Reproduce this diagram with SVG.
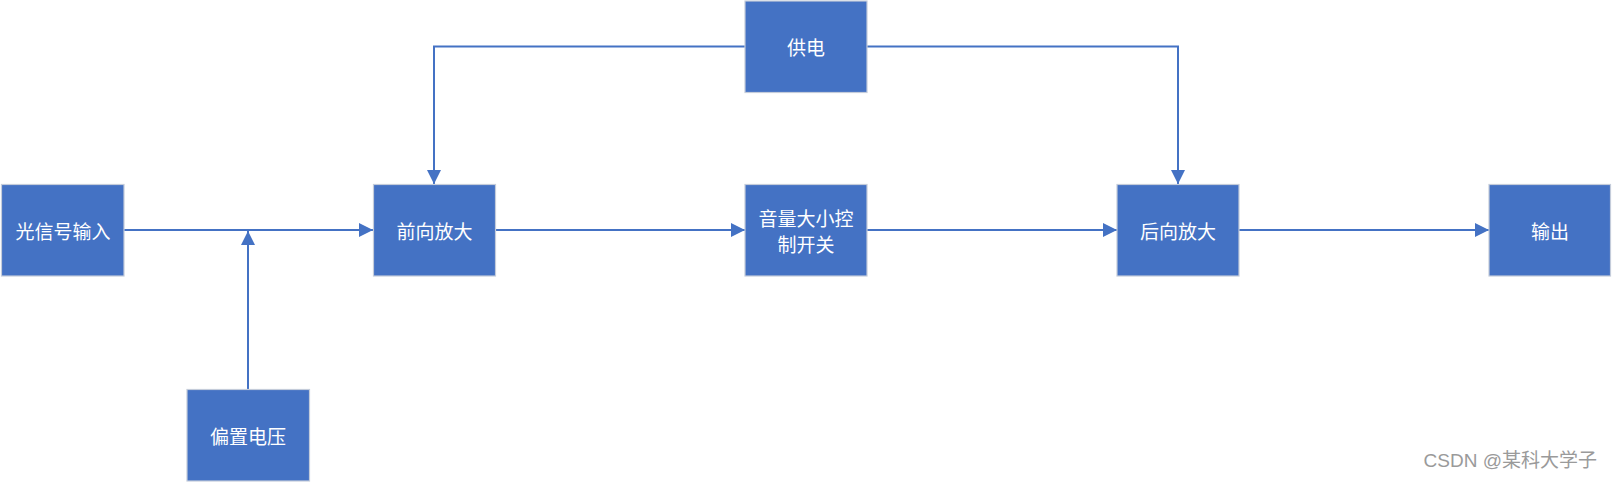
<svg xmlns="http://www.w3.org/2000/svg" width="1612" height="482" viewBox="0 0 1612 482">
<style>
.box{fill:#4472C4;stroke:#C4CCDA;stroke-width:1.2}
.lbl{fill:#ffffff;font-family:"Microsoft YaHei","Noto Sans CJK SC",sans-serif;font-size:19px;text-anchor:middle;dominant-baseline:central}
.ln{fill:none;stroke:#4472C4;stroke-width:2}
.wm{fill:#9a9a9a;font-family:"Liberation Sans","Noto Sans CJK SC",sans-serif;font-size:19px;text-anchor:end}
</style>
<defs>
<marker id="arr" markerUnits="userSpaceOnUse" markerWidth="14" markerHeight="14" viewBox="0 0 14 14" refX="14" refY="7" orient="auto">
<path d="M0,0 L14,7 L0,14 Z" fill="#4472C4"/>
</marker>
</defs>
<rect width="1612" height="482" fill="#ffffff"/>
<g id="connectors">
<line class="ln" x1="124" y1="230" x2="373" y2="230" marker-end="url(#arr)"/>
<line class="ln" x1="248" y1="389" x2="248" y2="231" marker-end="url(#arr)"/>
<polyline class="ln" points="745,46.5 434,46.5 434,184" marker-end="url(#arr)"/>
<polyline class="ln" points="867,46.5 1178,46.5 1178,184" marker-end="url(#arr)"/>
<line class="ln" x1="495" y1="230" x2="745" y2="230" marker-end="url(#arr)"/>
<line class="ln" x1="867" y1="230" x2="1117" y2="230" marker-end="url(#arr)"/>
<line class="ln" x1="1239" y1="230" x2="1489" y2="230" marker-end="url(#arr)"/>
</g>
<g id="n1"><rect class="box" x="1.5" y="184.5" width="122.5" height="91.5"/><text class="lbl" x="63" y="230">光信号输入</text></g>
<g id="n2"><rect class="box" x="373.5" y="184.5" width="122" height="91.5"/><text class="lbl" x="434.5" y="230">前向放大</text></g>
<g id="n3"><rect class="box" x="745" y="184.5" width="122" height="91.5"/><text class="lbl" x="806" y="217">音量大小控</text><text class="lbl" x="806" y="243">制开关</text></g>
<g id="n4"><rect class="box" x="1117" y="184.5" width="122" height="91.5"/><text class="lbl" x="1178" y="230">后向放大</text></g>
<g id="n5"><rect class="box" x="1489" y="184.5" width="121.5" height="91.5"/><text class="lbl" x="1550" y="230">输出</text></g>
<g id="n6"><rect class="box" x="745" y="1" width="122" height="91.5"/><text class="lbl" x="806" y="46.5">供电</text></g>
<g id="n7"><rect class="box" x="187" y="389.5" width="122.5" height="91.5"/><text class="lbl" x="248" y="435">偏置电压</text></g>
<text class="wm" x="1597" y="467">CSDN @某科大学子</text>
</svg>
